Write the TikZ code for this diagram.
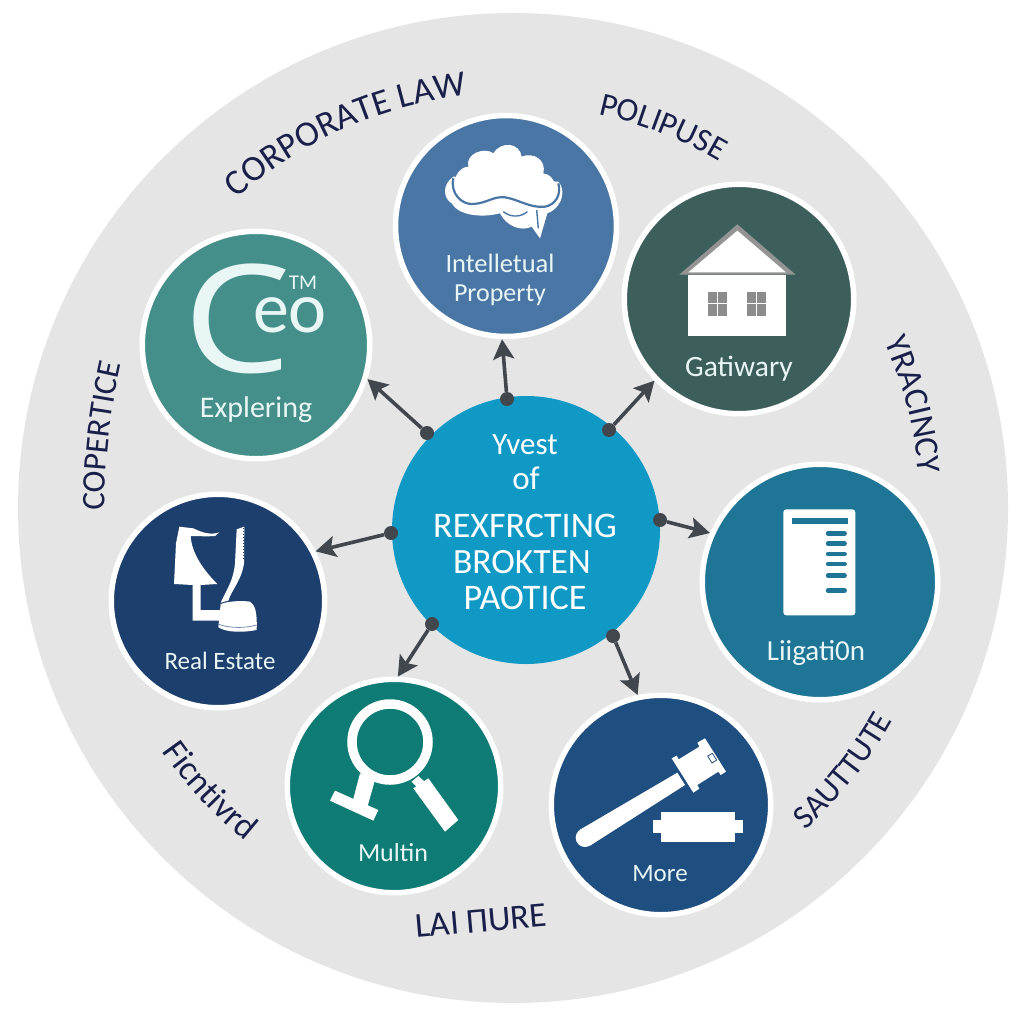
\documentclass[tikz,border=0pt]{standalone}
\usepackage{fontspec}
\setmainfont{Carlito}
\newfontfamily\badgefont{Open Sans}
\usetikzlibrary{arrows.meta,decorations.text}
\definecolor{discgrey}{HTML}{E5E5E6}
\definecolor{hubblue}{HTML}{1199C6}
\definecolor{ipblue}{HTML}{4A76A6}
\definecolor{gatepine}{HTML}{3D5F5C}
\definecolor{ceoteal}{HTML}{458F8A}
\definecolor{realnavy}{HTML}{1D3F6E}
\definecolor{litteal}{HTML}{1E7596}
\definecolor{multgreen}{HTML}{0E7C74}
\definecolor{moreblue}{HTML}{1F4F80}
\definecolor{linkgrey}{HTML}{42474D}
\definecolor{inkblue}{HTML}{1A1F4A}
\definecolor{labelwhite}{HTML}{E9F6F6}
\newcommand{\fsz}[1]{\fontsize{#1}{#1}\selectfont}
\tikzset{
  area/.style 2 args={circle,fill=#1,draw=white,line width=5.5pt,inner sep=0pt,minimum size=#2},
  areatext/.style={text=labelwhite,inner sep=0pt,anchor=base,align=center},
  hubtext/.style={text=white,inner sep=0pt,anchor=base},
  hubdot/.style={circle,fill=linkgrey,inner sep=0pt,minimum size=14pt},
  link/.style={draw=linkgrey,line width=3.6pt,-{Stealth[length=20pt,width=21pt,inset=4pt]}},
}
% Text set along an arc round the disc centre: start angle, end angle, radius, size, text
\newcommand{\ringtext}[5]{%
  \path[decorate,decoration={text along path,text align=center,text color=inkblue,
     text={|\fsz{#4}|#5}}]
     ([shift={(513,508)}]#1:#3) arc[start angle=#1,end angle=#2,radius=#3];}
\begin{document}
\begin{tikzpicture}[x=1pt,y=-1pt]
\useasboundingbox (0,0) rectangle (1024,1024);
\fill[white] (0,0) rectangle (1024,1024);
\fill[discgrey] (513,508) circle (495);

% Practice-area discs
\node[area={ipblue}{221pt}]    (prop)  at (506,226) {};
\node[area={gatepine}{229.5pt}] (gate)  at (739,299) {};
\node[area={ceoteal}{227.5pt}] (ceo)   at (256,345) {};
\node[area={realnavy}{213.5pt}] (real)  at (218,601) {};
\node[area={litteal}{235.5pt}] (lit)   at (820,582) {};
\node[area={multgreen}{213.5pt}] (mult)  at (394,786) {};
\node[area={moreblue}{219.5pt}] (more)  at (661,805) {};

% Central disc
\node[circle,fill=hubblue,inner sep=0pt,minimum size=268pt] (hub) at (526,530) {};

% Connector start points on the central disc
\node[hubdot] (d1) at (507,399) {};
\node[hubdot] (d2) at (609,430) {};
\node[hubdot] (d3) at (660,520) {};
\node[hubdot] (d4) at (613,636) {};
\node[hubdot] (d5) at (432,624) {};
\node[hubdot] (d6) at (391,533) {};
\node[hubdot] (d7) at (427,433) {};
\draw[link] (d1) -- (prop.268.5);
\draw[link] (d2) -- (gate.224);
\draw[link] (d3) -- (lit.156.4);
\draw[link] (d4) -- (more.102.7);
\draw[link] (d5) -- (mult.88);
\draw[link] (d6) -- (real.27.7);
\draw[link] (d7) -- (ceo.-17.6);

% Central disc text
\node[hubtext,font=\fsz{31}] (h1) at (525,454) {Yvest};
\node[hubtext,font=\fsz{33}] (h2) at (526,489) {of};
\node[hubtext,font=\fsz{36}] (h3) at (525,537) {REXFRCTING};
\node[hubtext,font=\fsz{35.5}] (h4) at (522,573) {BROKTEN};
\node[hubtext,font=\fsz{36}] (h5) at (525,609) {PAOTICE};

% Ceo badge
\node[areatext,font=\badgefont\fsz{150},xscale=1.14] (ceoC) at (237,372) {C};
\node[areatext,font=\fsz{72}] (ceoE) at (290,332) {eo};
\node[areatext,font=\fsz{21}] (ceoT) at (303,289) {TM};
\node[areatext,font=\fsz{30}] (ceoL) at (256,417) {Explering};

% Real estate badge
\node[areatext,font=\fsz{25}] (realL) at (220,669) {Real Estate};
\begin{scope}[shift={(100,480)},scale=0.33333]
  \fill[white] (238,140) -- (280,145) .. controls (310,160) and (335,165) .. (358,157)
    -- (345,168) .. controls (320,170) and (295,168) .. (272,168)
    .. controls (275,220) and (310,270) .. (352,312) -- (302,315) -- (302,390) -- (362,390)
    -- (362,422) -- (278,422) -- (278,315) -- (222,312) -- (228,190) -- cycle;
  \fill[white] (410,148) -- (433,140) -- (432,250) .. controls (425,300) and (395,330) .. (385,362)
    -- (362,368) .. controls (385,320) and (400,300) .. (405,250) -- cycle;
  \fill[white] (362,372) .. controls (390,362) and (430,362) .. (450,365)
    .. controls (465,375) and (472,395) .. (470,450)
    .. controls (430,458) and (380,458) .. (355,442) -- cycle;
  \draw[realnavy!60,line width=0.8pt] (356,433) .. controls (390,445) and (435,445) .. (470,435);
  \draw[realnavy,line width=0.7pt,dash pattern=on 1pt off 2pt] (431,145) -- (431,240);
\end{scope}

% Intellectual property badge
\node[areatext,font=\fsz{26.5}] (propL1) at (500,272) {Intelletual};
\node[areatext,font=\fsz{26}] (propL2) at (500,301) {Property};
\begin{scope}[shift={(390,110)},scale=0.33333]
  % lower lobes and tail
  \fill[white] (190,200) .. controls (155,225) and (160,265) .. (185,280)
    .. controls (205,315) and (270,325) .. (330,310)
    .. controls (350,350) and (395,365) .. (425,350) -- (450,385) -- (472,310)
    .. controls (505,300) and (535,250) .. (505,215) -- cycle;
  % upper cloud
  \fill[white] (197,240) .. controls (185,195) and (215,170) .. (235,170)
    .. controls (225,130) and (285,110) .. (310,130)
    .. controls (335,90) and (390,100) .. (395,140)
    .. controls (430,125) and (470,150) .. (460,190)
    .. controls (500,195) and (505,250) .. (480,270)
    .. controls (430,295) and (380,255) .. (320,258)
    .. controls (280,270) and (215,295) .. (197,240) -- cycle;
  \draw[ipblue,line width=2.2pt] (190,205) .. controls (180,250) and (215,285) .. (250,282)
    .. controls (290,280) and (310,258) .. (345,262)
    .. controls (385,268) and (420,295) .. (465,290)
    .. controls (495,285) and (515,255) .. (505,220);
  \draw[ipblue,line width=1.4pt] (340,305) .. controls (365,325) and (395,320) .. (412,305);
  \draw[ipblue,line width=1.4pt] (440,300) -- (445,355);
\end{scope}

% Gateway badge
\node[areatext,font=\fsz{29.5}] (gateL) at (739,376) {Gatiwary};
\begin{scope}[shift={(620,180)},scale=0.33333]
  \fill[black!42] (178,284) -- (352,133) -- (527,284) -- cycle;
  \fill[white] (205,277) -- (352,152) -- (498,277) -- cycle;
  \fill[white] (205,285) rectangle (498,467);
  \fill[black!45] (265,335) rectangle (320,408);
  \fill[black!45] (380,335) rectangle (437,408);
  \draw[white,line width=0.8pt] (292,335) -- (292,408) (265,370) -- (320,370)
    (408,335) -- (408,408) (380,370) -- (437,370);
\end{scope}

% Litigation badge
\node[areatext,font=\fsz{29}] (litL) at (816,660) {Liigati0n};
\begin{scope}[shift={(700,460)},scale=0.33333]
  \fill[white,rounded corners=3pt] (250,148) rectangle (466,466);
  \fill[litteal] (275,173) rectangle (443,191);
  \foreach \yy in {220,251,282,312,347,392}
    \draw[litteal,line width=4.4pt,line cap=round] (384,\yy) -- (434,\yy);
\end{scope}

% Search badge
\node[areatext,font=\fsz{26}] (multL) at (393,861) {Multin};
\begin{scope}[shift={(280,670)},scale=0.33333]
  \draw[white,line width=9.5pt] (330,216) circle (114);
  \fill[white] (240,310) -- (285,330) -- (258,425) -- (215,405) -- cycle;
  \fill[white] (165,362) -- (295,420) -- (280,452) -- (150,392) -- cycle;
  \fill[white] (395,335) -- (415,318) -- (445,345) -- (425,365) -- cycle;
  \fill[white] (400,355) -- (445,325) -- (535,450) -- (495,485) -- cycle;
\end{scope}

% Gavel badge
\node[areatext,font=\fsz{25}] (moreL) at (660,881) {More};
\begin{scope}[shift={(280,670)},scale=0.33333]
  \fill[white] (1192,308) -- (1215,345) -- (930,527) -- (900,479) -- cycle;
  \fill[white] (915,503) circle (28);
  \fill[white] (1175,265) -- (1190,257) -- (1196,268) -- (1258,230) -- (1252,218) -- (1275,205)
    -- (1338,305) -- (1322,315) -- (1315,305) -- (1252,345) -- (1258,356)
    -- (1240,368) -- (1175,265) -- cycle;
  \draw[moreblue,line width=0.8pt] (1283,258) -- (1297,250) -- (1310,270) -- (1296,279) -- cycle;
  \fill[white] (1142,425) rectangle (1366,515);
  \fill[white] (1120,450) rectangle (1388,490);
\end{scope}

% Labels set along the rim of the disc
\ringtext{-145}{-83}{415}{36}{CORPORATE LAW}
\ringtext{-85}{-52}{403}{33}{POLIPUSE}
\ringtext{-35}{6}{407}{34}{YRACINCY}
\path[decorate,decoration={text along path,text align=center,text color=inkblue,
     text={|\fsz{33}|COPERTICE}}]
     (104,530) .. controls (104,470) and (109,410) .. (126,345);
\ringtext{157}{117}{427}{35}{Ficntivrd}
\ringtext{57}{20}{435}{33}{SAUTTUTE}
\node[text=inkblue,font=\fsz{35},rotate=5,inner sep=0pt] (lower) at (481,921) {LAI ΠURE};
\end{tikzpicture}
\end{document}
